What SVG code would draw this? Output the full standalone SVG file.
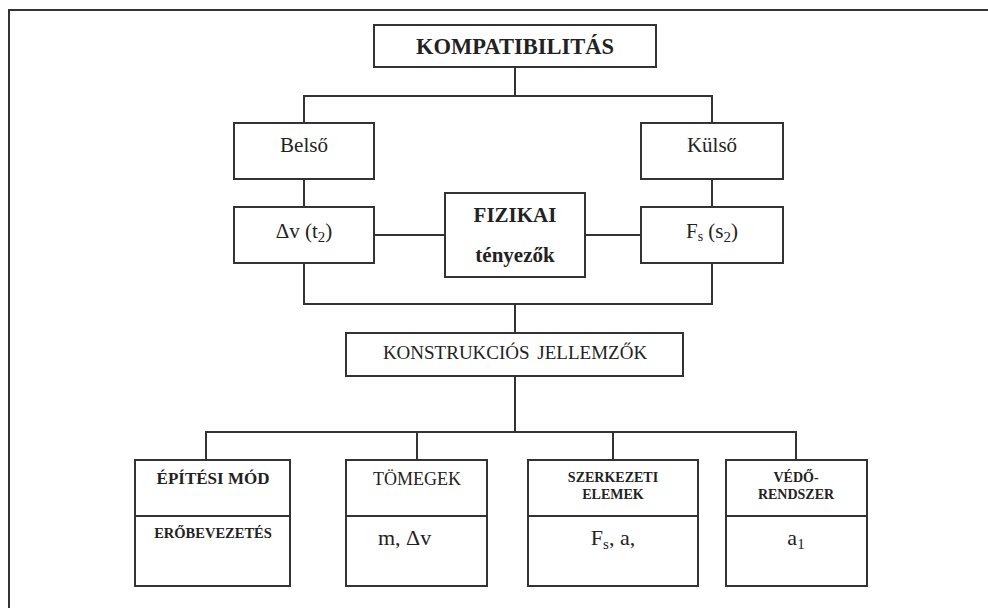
<svg xmlns="http://www.w3.org/2000/svg" width="988" height="608" viewBox="0 0 988 608">
<style>
.b{fill:#fff;stroke:#333;stroke-width:2}
.c{fill:none;stroke:#333;stroke-width:2}
text{fill:#222;text-anchor:middle;font-family:"Liberation Serif","Times New Roman","DejaVu Serif",serif}
.bd{font-weight:bold}
</style>
<rect width="988" height="608" fill="#fff"/>
<path class="c" d="M9,608 V10 H988" stroke-width="2.5"/>
<g id="connectors">
<path class="c" d="M515,67 V96 M304,123 V96 H712 V123"/>
<path class="c" d="M304,179 V207 M712,179 V207"/>
<path class="c" d="M374,235 H445 M585,235 H641"/>
<path class="c" d="M304,263 V304 H712 V263 M515,304 V333"/>
<path class="c" d="M515,376 V432 M206,460 V432 H796 V460 M417,432 V460 M613,432 V460"/>
</g>
<g id="kompatibilitas">
<rect class="b" x="374" y="25" width="282" height="42"/>
<text class="bd" x="515" y="54" font-size="22.5">KOMPATIBILITÁS</text>
</g>
<g id="belso">
<rect class="b" x="234" y="123" width="140" height="56"/>
<text x="304" y="152" font-size="21">Belső</text>
</g>
<g id="kulso">
<rect class="b" x="641" y="123" width="142" height="56"/>
<text x="712" y="152" font-size="21">Külső</text>
</g>
<g id="dv">
<rect class="b" x="234" y="207" width="140" height="56"/>
<text x="304" y="238" font-size="21">Δv (t<tspan font-size="15" dy="4">2</tspan><tspan dy="-4">)</tspan></text>
</g>
<g id="fizikai">
<rect class="b" x="445" y="193" width="140" height="84"/>
<text class="bd" x="515" y="222" font-size="21">FIZIKAI</text>
<text class="bd" x="515" y="262" font-size="21">tényezők</text>
</g>
<g id="fs">
<rect class="b" x="641" y="207" width="142" height="56"/>
<text x="712" y="238" font-size="21">F<tspan font-size="14" dy="3">s</tspan><tspan dy="-3"> (s</tspan><tspan font-size="15" dy="4">2</tspan><tspan dy="-4">)</tspan></text>
</g>
<g id="konstrukcios">
<rect class="b" x="346" y="333" width="337" height="43"/>
<text x="515" y="359" font-size="19" word-spacing="3">KONSTRUKCIÓS JELLEMZŐK</text>
</g>
<g id="epitesi">
<rect class="b" x="135" y="460" width="155" height="126"/>
<line class="c" x1="135" y1="516" x2="290" y2="516"/>
<text class="bd" x="213" y="484" font-size="17">ÉPÍTÉSI MÓD</text>
<text class="bd" x="213" y="538" font-size="14.5">ERŐBEVEZETÉS</text>
</g>
<g id="tomegek">
<rect class="b" x="346" y="460" width="141" height="126"/>
<line class="c" x1="346" y1="516" x2="487" y2="516"/>
<text x="417" y="485" font-size="18">TÖMEGEK</text>
<text x="378" y="545" font-size="22" style="text-anchor:start">m, Δv</text>
</g>
<g id="szerkezeti">
<rect class="b" x="528" y="460" width="170" height="126"/>
<line class="c" x1="528" y1="516" x2="698" y2="516"/>
<text class="bd" x="613" y="482" font-size="14">SZERKEZETI</text>
<text class="bd" x="613" y="499" font-size="14">ELEMEK</text>
<text x="613" y="545" font-size="22">F<tspan font-size="15" dy="4">s</tspan><tspan dy="-4">, a,</tspan></text>
</g>
<g id="vedo">
<rect class="b" x="726" y="460" width="141" height="126"/>
<line class="c" x1="726" y1="516" x2="867" y2="516"/>
<text class="bd" x="796" y="482" font-size="14">VÉDŐ-</text>
<text class="bd" x="796" y="499" font-size="14">RENDSZER</text>
<text x="796" y="545" font-size="22">a<tspan font-size="15" dy="4">1</tspan></text>
</g>
</svg>
